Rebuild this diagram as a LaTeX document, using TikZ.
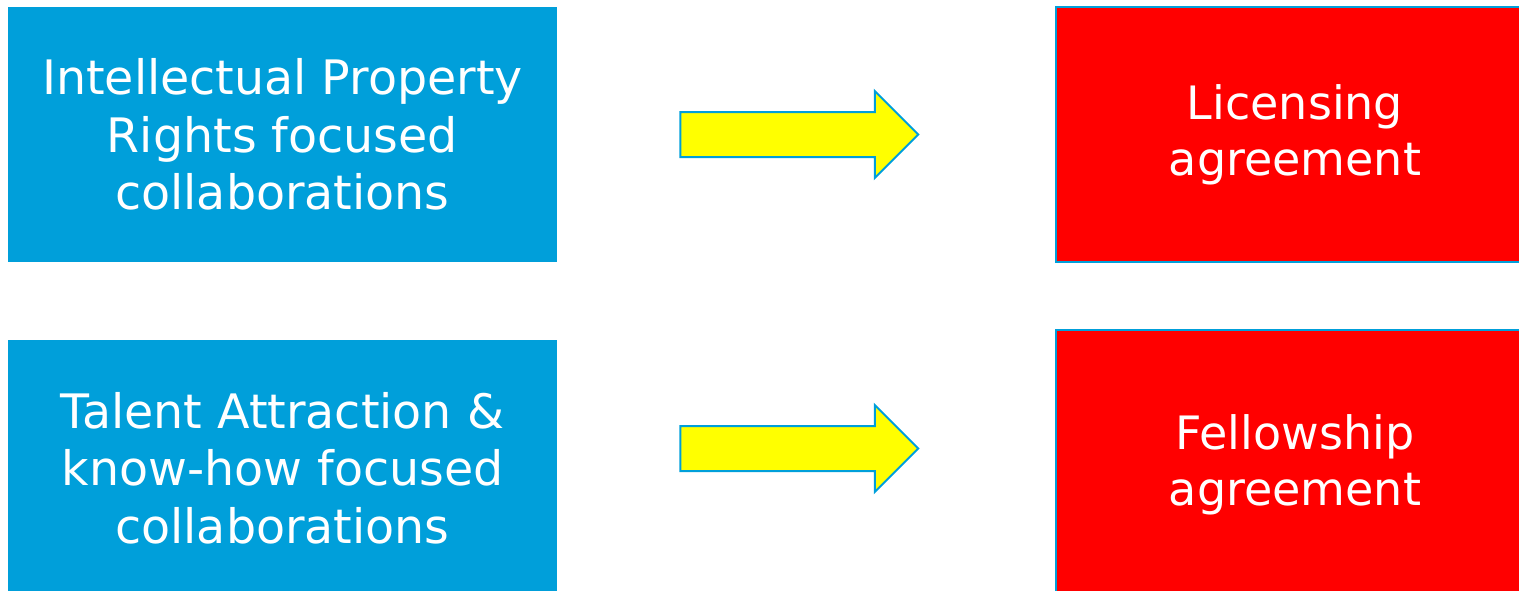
\documentclass[tikz,border=0pt]{standalone}
\usepackage{fontspec}
\setmainfont{DejaVu Sans}
\usetikzlibrary{shapes.arrows}
\definecolor{boxblue}{RGB}{0,159,218}
\definecolor{boxred}{RGB}{255,0,0}
\definecolor{arrowyellow}{RGB}{255,255,0}

\begin{document}
\begin{tikzpicture}[x=1pt,y=-1pt,
  bluebox/.style={fill=boxblue,inner sep=0pt,minimum width=549pt,text=white,align=center,font=\fontsize{47.5}{57.5}\selectfont},
  redbox/.style={fill=boxred,draw=boxblue,line width=2pt,inner sep=0pt,minimum width=478pt,text=white,align=center,font=\fontsize{46}{56}\selectfont},
  blockarrow/.style={single arrow,fill=arrowyellow,draw=boxblue,line width=2pt,inner sep=0pt,inner ysep=21.5pt,minimum height=238pt,single arrow head extend=21pt}]
\path[use as bounding box] (0,0) rectangle (1519.0,590.0);
\node[bluebox,minimum height=255pt] (ipr) at (282.5,134.5) {Intellectual Property\\Rights focused\\collaborations};
\node[bluebox,minimum height=256pt] (talent) at (282.5,468) {Talent Attraction \&\\know-how focused\\collaborations};
\node[redbox,minimum height=255pt] (licensing) at (1295,134.5) {Licensing\\agreement};
\node[redbox,minimum height=270pt] (fellowship) at (1295,465) {Fellowship\\agreement};
\node[blockarrow] (arrowA) at (788,134.5) {};
\node[blockarrow] (arrowB) at (788,448.5) {};
\end{tikzpicture}
\end{document}
